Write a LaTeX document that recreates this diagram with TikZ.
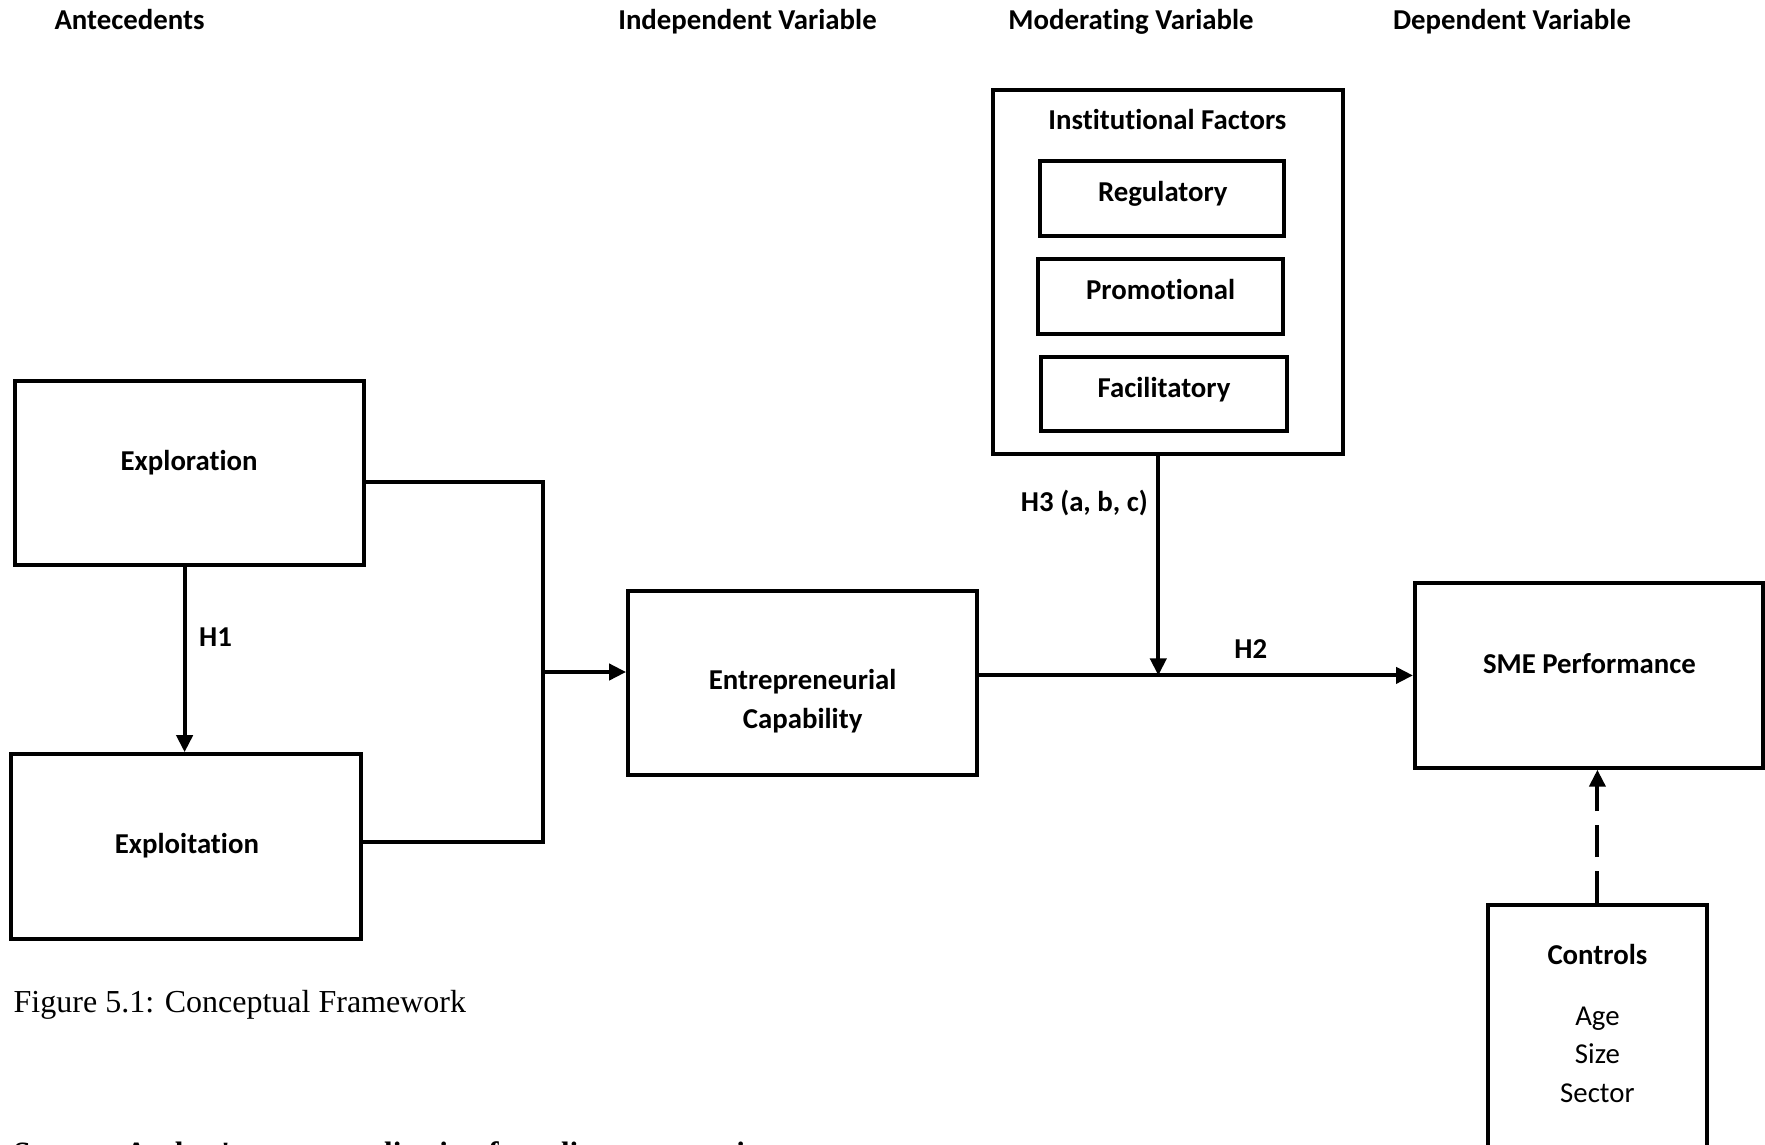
\documentclass[tikz,border=0pt]{standalone}
\usepackage{fontspec}
\setmainfont[Ligatures=NoCommon]{Carlito}
\newfontfamily\capfont{Liberation Serif}
\usetikzlibrary{arrows.meta,calc}
\tikzset{
  box/.style={draw, line width=4pt, inner sep=0pt, fill=none},
  lbl/.style={font=\fontsize{28.8}{38.3}\selectfont\bfseries, inner sep=0pt, anchor=base},
  txt/.style={font=\fontsize{28.8}{38.3}\selectfont, inner sep=0pt, anchor=base, align=center},
  conn/.style={line width=4pt},
  arr/.style={line width=4pt, -{Triangle[length=17pt,width=16pt]}},
}
\begin{document}
\begin{tikzpicture}[x=1pt,y=1pt]
\clip (0,0) rectangle (1765,-1144);
\fill[white] (0,0) rectangle (1765,-1144);
% headers
\node[lbl] (hA) at (129.5,-29) {Antecedents};
\node[lbl] (hI) at (747.5,-29) {Independent Variable};
\node[lbl] (hM) at (1131,-29) {Moderating Variable};
\node[lbl] (hD) at (1512,-29) {Dependent Variable};
% boxes
\node[box, minimum width=349, minimum height=184.6] (expl) at (189.1,-472.8) {};
\node[lbl] (explT) at (189.1,-470.5) {Exploration};
\node[box, minimum width=350, minimum height=184.6] (exploit) at (186.3,-846.5) {};
\node[lbl] (exploitT) at (186.9,-853) {Exploitation};
\node[box, minimum width=349, minimum height=183.5] (ec) at (802.6,-682.75) {};
\node[lbl, align=center] (ecT) at (802.6,-728) {Entrepreneurial\\Capability};
\node[box, minimum width=350.1, minimum height=363.7] (inst) at (1167.95,-271.85) {};
\node[lbl] (instT) at (1167.4,-129.4) {Institutional Factors};
\node[box, minimum width=244.4, minimum height=75.4] (reg) at (1162.2,-198.7) {};
\node[lbl] (regT) at (1162.8,-201.5) {Regulatory};
\node[box, minimum width=245.4, minimum height=75.4] (prom) at (1160.6,-296.6) {};
\node[lbl] (promT) at (1160.6,-299.4) {Promotional};
\node[box, minimum width=245.4, minimum height=74.3] (fac) at (1164,-393.95) {};
\node[lbl] (facT) at (1164,-397.4) {Facilitatory};
\node[box, minimum width=347.8, minimum height=184.6] (sme) at (1588.9,-675.4) {};
\node[lbl] (smeT) at (1589.5,-673.2) {SME Performance};
\node[box, minimum width=218.4, minimum height=295] (ctrl) at (1597.4,-1052.5) {};
\node[lbl] (ctrlT) at (1597.4,-964.7) {Controls};
\node[txt] (ctrlL) at (1597.4,-1102.1) {Age\\Size\\Sector};
% coordinates
\coordinate (j1) at (542.6,-481.8);
\coordinate (j2) at (542.6,-842);
\coordinate (jm) at (542.6,-672);
\coordinate (h2y) at (0,-675.4);
\coordinate (h3x) at (1158.3,0);
\coordinate (h3e) at (1158.3,-675.4);
\coordinate (dx) at (1597.4,0);
% connectors
\draw[arr] (expl.south -| 184.6,0) -- (exploit.north -| 184.6,0);
\node[lbl, anchor=base west] (h1) at (199,-646) {H1};
\draw[conn] (expl.east |- j1) -- (j1) -- (j2) -- (exploit.east |- j2);
\draw[arr] (jm) -- (ec.west |- jm);
\draw[arr] (ec.east |- h2y) -- (sme.west |- h2y);
\node[lbl] (h2) at (1250.7,-658.5) {H2};
\draw[arr] (inst.south -| h3x) -- (h3e);
\node[lbl, anchor=base east] (h3) at (1148,-511) {H3 (a, b, c)};
\draw[line width=4pt, dash pattern=on 32pt off 14pt, -{Triangle[length=17pt,width=16pt]}] (ctrl.north -| dx) -- (sme.south -| dx);
% captions
\node[inner sep=0pt, anchor=base west, font=\capfont\fontsize{32}{38}\selectfont] (cap) at (13.5,-1012.5) {Figure 5.1: Conceptual Framework};
\node[inner sep=0pt, anchor=base west, font=\capfont\fontsize{31}{38}\selectfont\bfseries] (src) at (13.5,-1163) {Source: Author's conceptualisation from literature review};
\end{tikzpicture}
\end{document}
